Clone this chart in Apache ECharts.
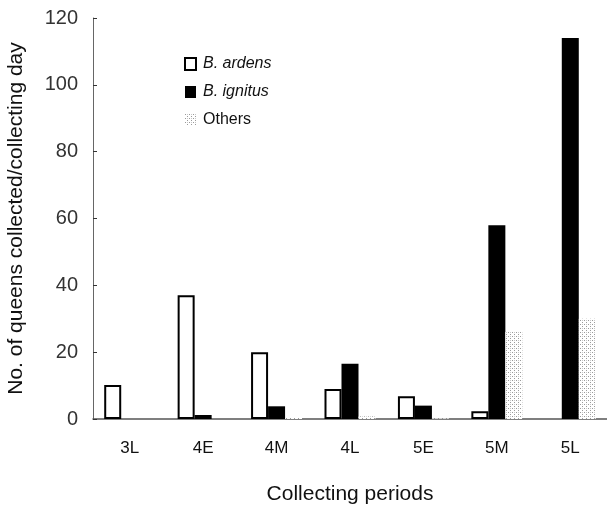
<!DOCTYPE html>
<html><head><meta charset="utf-8">
<script src="https://cdn.jsdelivr.net/npm/echarts@6/dist/echarts.min.js"></script>
<style>html,body{margin:0;padding:0;background:#fff}#c{width:607px;height:506px}</style>
</head><body><div id="c"></div>
<script>
var categories = ['3L','4E','4M','4L','5E','5M','5L'];
var ardens  = [10.2, 37, 20, 9, 6.8, 2.3, 0];
var ignitus = [0, 1.2, 3.8, 16.5, 4, 58, 114];
var others  = [0, 0, 0.3, 0.8, 0.2, 26, 30];
var yTicks = [0, 20, 40, 60, 80, 100, 120];

var pc = document.createElement('canvas');
pc.width = 4; pc.height = 4;
var g = pc.getContext('2d');
g.fillStyle = '#ffffff'; g.fillRect(0,0,4,4);
g.fillStyle = '#9a9a9a'; g.fillRect(0,0,1,1); g.fillRect(2,2,1,1);
g.fillStyle = '#c8c8c8'; g.fillRect(2,0,1,1);
var pattern = {image: pc, repeat: 'repeat'};

function hideZero(arr){
  return arr.map(function(v){ return v === 0 ? {value: v, itemStyle: {borderWidth: 0, opacity: 0}} : v; });
}

var font = 'Liberation Sans';
var chart = echarts.init(document.getElementById('c'), null, {renderer: 'canvas'});
chart.setOption({
  animation: false,
  backgroundColor: '#fff',
  textStyle: {fontFamily: font},
  grid: {left: 93, right: 0, top: 18, bottom: 87, containLabel: false, outerBoundsMode: 'none'},
  legend: {
    orient: 'vertical', left: 179, top: 51, itemGap: 12,
    itemWidth: 11, itemHeight: 12, icon: 'rect',
    textStyle: {fontFamily: font, fontSize: 16, color: '#111', padding: [0, 0, 0, 2]},
    data: [
      {name: 'B. ardens', textStyle: {fontStyle: 'italic'}},
      {name: 'B. ignitus', textStyle: {fontStyle: 'italic'}},
      {name: 'Others'}
    ]
  },
  xAxis: {
    type: 'category', data: categories,
    name: 'Collecting periods', nameLocation: 'middle', nameGap: 65,
    nameTextStyle: {fontSize: 21, color: '#111', fontFamily: font},
    axisLine: {lineStyle: {color: '#555', width: 1.5}},
    axisTick: {inside: true, length: 5, lineStyle: {color: '#333'}},
    axisLabel: {fontSize: 17, color: '#111', margin: 21}
  },
  yAxis: {
    type: 'value', min: 0, max: 120, interval: 20,
    name: 'No. of queens collected/collecting day', nameLocation: 'middle', nameGap: 66,
    nameTextStyle: {fontSize: 21, color: '#111', fontFamily: font},
    axisLine: {show: true, lineStyle: {color: '#666', width: 1}},
    axisTick: {show: true, inside: true, length: 4, lineStyle: {color: '#333'}},
    axisLabel: {fontSize: 20, color: '#333', margin: 15,
      formatter: function(v){ return yTicks.indexOf(v) >= 0 ? String(v) : ''; }},
    splitLine: {show: false}
  },
  series: [
    {name: 'B. ardens', type: 'bar', data: hideZero(ardens), barWidth: 17, barGap: '0%',
     itemStyle: {color: '#fff', borderColor: '#000', borderWidth: 2}},
    {name: 'B. ignitus', type: 'bar', data: ignitus, barWidth: 17, barGap: '0%',
     itemStyle: {color: '#000'}},
    {name: 'Others', type: 'bar', data: others, barWidth: 17, barGap: '0%',
     itemStyle: {color: pattern}}
  ]
});
</script></body></html>
